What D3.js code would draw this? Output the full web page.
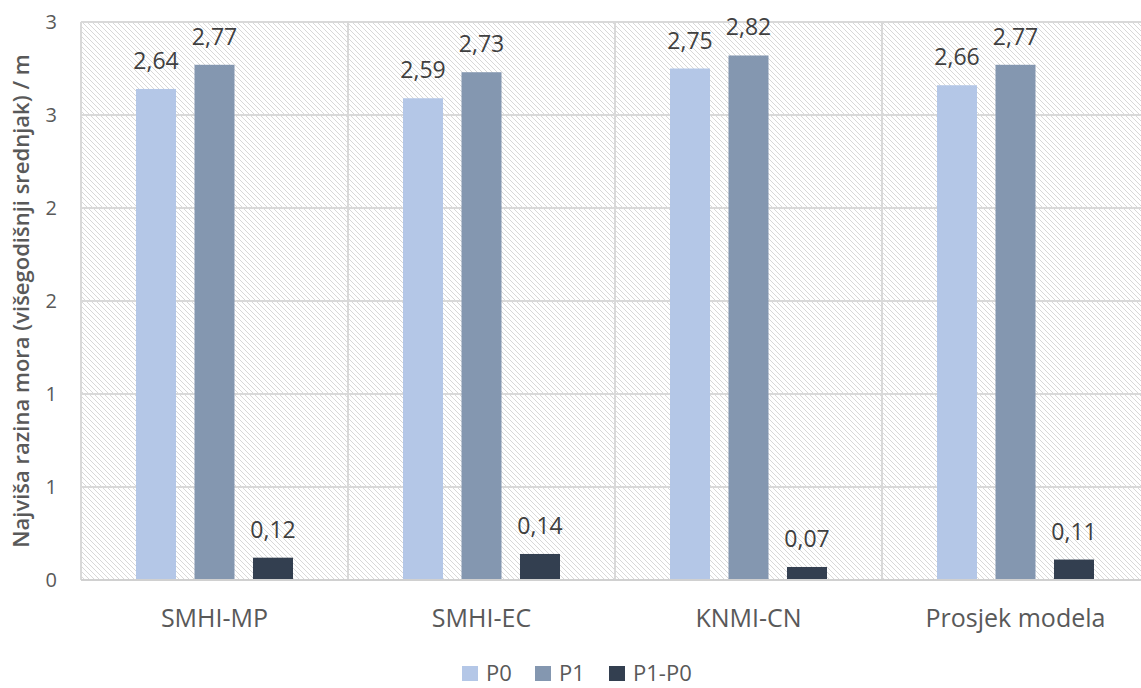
<!DOCTYPE html>
<html>
<head>
<meta charset="utf-8">
<script src="https://cdn.jsdelivr.net/npm/d3@7"></script>
<style>
  html, body { margin: 0; padding: 0; background: #fff; }
  svg { display: block; font-family: "Open Sans", "Noto Sans", sans-serif; }
</style>
</head>
<body>
<svg id="chart" width="1141" height="688"></svg>
<script>
// Models and the maximum sea level (multi-year mean) per period
const categories = ["SMHI-MP", "SMHI-EC", "KNMI-CN", "Prosjek modela"];
const seriesNames = ["P0", "P1", "P1-P0"];
const valuesP0 = [2.64, 2.59, 2.75, 2.66];
const valuesP1 = [2.77, 2.73, 2.82, 2.77];
const valuesDiff = [0.12, 0.14, 0.07, 0.11];
const yTicks = [0, 0.5, 1, 1.5, 2, 2.5, 3];
const yTickLabels = ["0", "1", "1", "2", "2", "3", "3"];
const colors = ["#b4c7e7", "#8497b0", "#333f50"];
const yTitle = "Najviša razina mora (višegodišnji srednjak) / m";

const seriesValues = [valuesP0, valuesP1, valuesDiff];
const data = categories.map((c, i) => ({
  category: c,
  bars: seriesNames.map((s, j) => ({ series: s, value: seriesValues[j][i] }))
}));

const svg = d3.select("#chart");
const plot = { left: 81, right: 1149, top: 22, bottom: 580 };

const x0 = d3.scaleBand().domain(categories).range([plot.left, plot.right]).padding(0);
const bw = x0.bandwidth();
const x1 = d3.scaleBand().domain(seriesNames).range([bw * 0.206, bw * 0.794]).paddingInner(0.316);
const y = d3.scaleLinear().domain([0, 3]).range([plot.bottom, plot.top]);
const color = d3.scaleOrdinal().domain(seriesNames).range(colors);

// diagonal hatch fill for the plot area
const defs = svg.append("defs");
const pat = defs.append("pattern")
  .attr("id", "hatch").attr("patternUnits", "userSpaceOnUse")
  .attr("width", 5).attr("height", 5);
pat.append("path")
  .attr("d", "M0,0 L5,5 M-1,4 L1,6 M4,-1 L6,1")
  .attr("stroke", "#d8d8d8").attr("stroke-width", 1).attr("fill", "none");

svg.append("rect")
  .attr("x", plot.left).attr("y", plot.top)
  .attr("width", plot.right - plot.left).attr("height", plot.bottom - plot.top)
  .attr("fill", "url(#hatch)");

// horizontal gridlines
svg.append("g")
  .selectAll("line").data(yTicks).join("line")
  .attr("x1", plot.left).attr("x2", plot.right)
  .attr("y1", d => y(d)).attr("y2", d => y(d))
  .attr("stroke", "#d9d9d9").attr("stroke-width", 2);

// vertical separators between categories
svg.append("g")
  .selectAll("line").data(categories).join("line")
  .attr("x1", d => x0(d)).attr("x2", d => x0(d))
  .attr("y1", plot.top).attr("y2", plot.bottom)
  .attr("stroke", "#d9d9d9").attr("stroke-width", 2);

// y-axis tick labels
svg.append("g")
  .selectAll("text").data(yTicks).join("text")
  .attr("x", 57).attr("y", d => y(d))
  .attr("dy", "0.35em")
  .attr("text-anchor", "end")
  .attr("font-size", 20).attr("fill", "#595959")
  .text((d, i) => yTickLabels[i]);

// bars
const groups = svg.append("g")
  .selectAll("g").data(data).join("g")
  .attr("transform", d => `translate(${x0(d.category)},0)`);

groups.selectAll("rect").data(d => d.bars).join("rect")
  .attr("x", d => x1(d.series))
  .attr("y", d => y(d.value))
  .attr("width", x1.bandwidth())
  .attr("height", d => y(0) - y(d.value))
  .attr("fill", d => color(d.series));

// value labels
groups.selectAll("text").data(d => d.bars).join("text")
  .attr("x", d => x1(d.series) + x1.bandwidth() / 2)
  .attr("y", d => y(d.value) - 20)
  .attr("text-anchor", "middle")
  .attr("font-size", 23).attr("fill", "#404040")
  .text(d => d3.format(".2f")(d.value).replace(".", ","));

// bottom axis line
svg.append("line")
  .attr("x1", plot.left).attr("x2", plot.right)
  .attr("y1", plot.bottom).attr("y2", plot.bottom)
  .attr("stroke", "#d0d0d0").attr("stroke-width", 2);

// category labels
svg.append("g")
  .selectAll("text").data(categories).join("text")
  .attr("x", d => x0(d) + bw / 2).attr("y", 627)
  .attr("text-anchor", "middle")
  .attr("font-size", 25).attr("fill", "#595959")
  .text(d => d);

// y-axis title
svg.append("text")
  .attr("transform", `translate(29,${(plot.top + plot.bottom) / 2}) rotate(-90)`)
  .attr("text-anchor", "middle")
  .attr("font-size", 22).attr("font-weight", 600).attr("fill", "#595959")
  .text(yTitle);

// legend
const legendX = [462, 535, 609];
const legend = svg.append("g")
  .selectAll("g").data(seriesNames).join("g")
  .attr("transform", (d, i) => `translate(${legendX[i]},666)`);
legend.append("rect")
  .attr("width", 16).attr("height", 15)
  .attr("fill", d => color(d));
legend.append("text")
  .attr("x", 24).attr("y", 15)
  .attr("font-size", 22).attr("fill", "#595959")
  .text(d => d);
</script>
</body>
</html>
